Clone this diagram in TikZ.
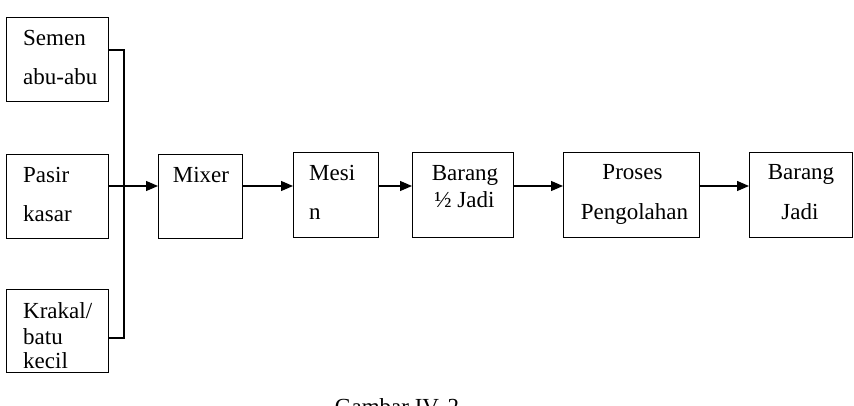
\documentclass[tikz,border=0pt]{standalone}
\usepackage{fontspec}
\setmainfont{Liberation Serif}
\usetikzlibrary{arrows.meta}
\begin{document}
\begin{tikzpicture}[x=1pt,y=-1pt,
  box/.style={draw,line width=1.4pt,rectangle,inner sep=0pt,anchor=north west},
  txt/.style={inner sep=0pt,font=\fontsize{23}{27}\selectfont},
  link/.style={line width=1.3pt},
  arr/.style={line width=1.3pt,-{Triangle[length=12pt,width=10pt]}}]
\clip (0,0) rectangle (854,406);
\fill[white] (0,0) rectangle (854,406);
% boxes
\node[box,minimum width=102pt,minimum height=84pt] (semen) at (6,17) {};
\node[box,minimum width=102pt,minimum height=84pt] (pasir) at (6,154) {};
\node[box,minimum width=102pt,minimum height=83pt] (krakal) at (6,289) {};
\node[box,minimum width=84pt,minimum height=84pt] (mixer) at (158,154) {};
\node[box,minimum width=85pt,minimum height=85pt] (mesin) at (293,152) {};
\node[box,minimum width=101pt,minimum height=85pt] (setengah) at (412,152) {};
\node[box,minimum width=136pt,minimum height=85pt] (proses) at (563,152) {};
\node[box,minimum width=103pt,minimum height=85pt] (jadi) at (749,152) {};
% texts
\node[txt,anchor=base west] (t1) at (23,46) {Semen};
\node[txt,anchor=base west] (t2) at (23,85) {abu-abu};
\node[txt,anchor=base west] (t3) at (23,183) {Pasir};
\node[txt,anchor=base west] (t4) at (23,222) {kasar};
\node[txt,anchor=base west] (t5) at (23,318) {Krakal/};
\node[txt,anchor=base west] (t6) at (23,344) {batu};
\node[txt,anchor=base west] (t7) at (23,368) {kecil};
\node[txt,anchor=base] (t8) at (201,183) {Mixer};
\node[txt,anchor=base west] (t9) at (309,181) {Mesi};
\node[txt,anchor=base west] (t10) at (309,220) {n};
\node[txt,anchor=base] (t11) at (465,181) {Barang};
\node[txt,anchor=base] (t12) at (464.5,208) {½ Jadi};
\node[txt,anchor=base] (t13) at (632.5,180) {Proses};
\node[txt,anchor=base] (t14) at (634.5,219) {Pengolahan};
\node[txt,anchor=base] (t15) at (801,180) {Barang};
\node[txt,anchor=base] (t16) at (800,219) {Jadi};
\node[txt,anchor=base] (cap) at (397,414) {Gambar IV. 2};
% connectors
\coordinate (top) at (124,50);
\coordinate (bot) at (124,338);
\coordinate (lvl) at (0,186);
\draw[link] (semen.east |- top) -- (top) -- (bot) -- (krakal.east |- bot);
\draw[arr] (pasir.east |- lvl) -- (mixer.west |- lvl);
\draw[arr] (mixer.east |- lvl) -- (mesin.west |- lvl);
\draw[arr] (mesin.east |- lvl) -- (setengah.west |- lvl);
\draw[arr] (setengah.east |- lvl) -- (proses.west |- lvl);
\draw[arr] (proses.east |- lvl) -- (jadi.west |- lvl);
\end{tikzpicture}
\end{document}
